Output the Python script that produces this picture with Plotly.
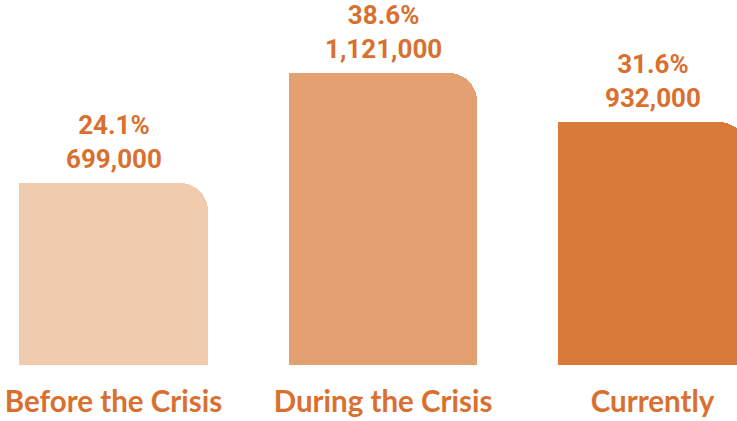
import plotly.graph_objects as go

# Unemployment snapshot across three periods
categories = ["Before the Crisis", "During the Crisis", "Currently"]
shares = [24.1, 38.6, 31.6]          # percent
counts = [699000, 1121000, 932000]   # people
bar_colors = ["#F0CBAE", "#E3A070", "#D9793A"]
text_color = "#D9702F"

positions = list(range(len(categories)))
bar_width = 0.70

fig = go.Figure()

# Full-width bars with rounded tops
fig.add_trace(go.Bar(
    x=positions, y=counts, width=bar_width, offset=-bar_width / 2,
    marker=dict(color=bar_colors, cornerradius=28, line=dict(width=0)),
    hoverinfo="skip", showlegend=False,
))
# Left halves drawn square so only the top-right corner stays rounded
fig.add_trace(go.Bar(
    x=positions, y=counts, width=bar_width / 2, offset=-bar_width / 2,
    marker=dict(color=bar_colors, cornerradius=0, line=dict(width=0)),
    hoverinfo="skip", showlegend=False,
))

# Value labels above each bar
for xp, pct, cnt in zip(positions, shares, counts):
    fig.add_annotation(
        x=xp, y=cnt, yanchor="bottom", xanchor="center",
        text=f"{pct:.1f}%<br>{cnt:,}", showarrow=False, yshift=7,
        font=dict(family="Roboto", size=26, color=text_color, weight="bold"),
        align="center",
    )

fig.update_layout(
    width=737, height=421,
    margin=dict(l=0, r=0, t=0, b=56),
    paper_bgcolor="white", plot_bgcolor="white",
    barmode="overlay", bargap=0,
    xaxis=dict(
        range=[-0.4212, 2.3135], tickvals=positions, ticktext=categories,
        showgrid=False, zeroline=False, showline=False, ticks="",
        tickfont=dict(family="Lato", size=29.5, color=text_color, weight="bold"),
        ticklabelstandoff=16, automargin=False, fixedrange=True,
    ),
    yaxis=dict(
        range=[0, 1401700], visible=False, showgrid=False,
        zeroline=False, fixedrange=True,
    ),
)

fig.write_html("out.html")
